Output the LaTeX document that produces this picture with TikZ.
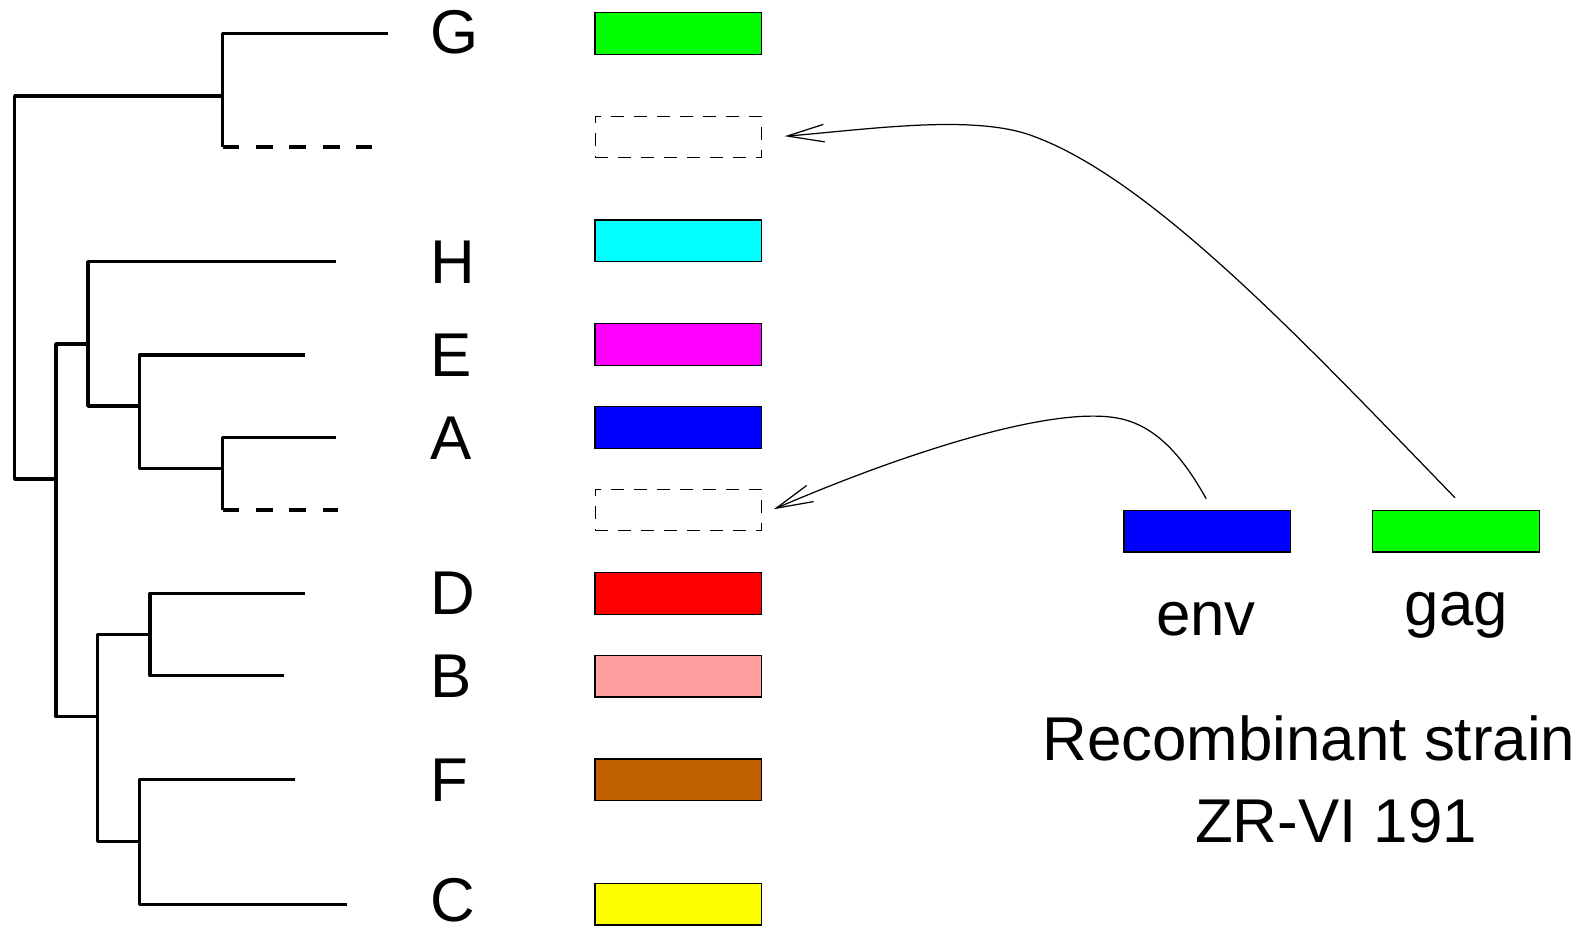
\documentclass[tikz,border=0pt]{standalone}
\usepackage{fontspec}
\setmainfont{Liberation Sans}
\usetikzlibrary{arrows.meta,calc,positioning}
\definecolor{greenG}{RGB}{0,255,0}
\definecolor{cyanH}{RGB}{0,255,255}
\definecolor{magentaE}{RGB}{255,0,255}
\definecolor{blueA}{RGB}{0,0,255}
\definecolor{redD}{RGB}{255,0,0}
\definecolor{pinkB}{RGB}{255,160,160}
\definecolor{brownF}{RGB}{192,96,0}
\definecolor{yellowC}{RGB}{255,255,0}

\begin{document}
\begin{tikzpicture}[x=0.02cm, y=-0.02cm,
		branch/.style={line width=2pt, line join=round},
		bar/.style={draw=black, line width=0.8pt, minimum width=3.33cm, minimum height=0.83cm, inner sep=0pt},
		gapbar/.style={bar, line width=0.6pt, dash pattern=on 7.4pt off 5.7pt},
		txt/.style={inner sep=0pt, font=\fontsize{35.2}{40}\selectfont},
		jump/.style={line width=0.7pt, -{Straight Barb[length=21pt,width=10pt]}}]
	\useasboundingbox (0,0) rectangle (1585,930);
	% inner nodes of the tree
	\coordinate (root) at (14.7,300);
	\coordinate (c1) at (222.7,96);
	\coordinate (c2) at (56,479);
	\coordinate (c3) at (88,344);
	\coordinate (c4) at (139.3,406);
	\coordinate (c5) at (222.7,468.3);
	\coordinate (c6) at (97.7,716.7);
	\coordinate (c7) at (150,634.3);
	\coordinate (c8) at (139.3,841.7);
	% tips
	\coordinate (tG) at (387.7,33.5);
	\coordinate (tX1) at (372,147);
	\coordinate (tH) at (336,261.7);
	\coordinate (tE) at (305,355);
	\coordinate (tA) at (336,437.3);
	\coordinate (tX2) at (338,510);
	\coordinate (tD) at (305,593.3);
	\coordinate (tB) at (284.3,675.7);
	\coordinate (tF) at (294.7,779.3);
	\coordinate (tC) at (346.7,904.3);
	\foreach \a/\b in {root/c1, root/c2, c2/c3, c2/c6, c3/c4, c4/c5, c6/c7, c6/c8,
		c1/tG, c3/tH, c4/tE, c5/tA, c7/tD, c7/tB, c8/tF, c8/tC}
		\draw[branch] (\a) |- (\b);
	% missing lineages
	\draw[branch] (c1) -- (c1 |- tX1);
	\draw[branch, dash pattern=on 9.5pt off 9.5pt] (c1 |- tX1) -- (tX1);
	\draw[branch] (c5) -- (c5 |- tX2);
	\draw[branch, dash pattern=on 9.5pt off 9.5pt] (c5 |- tX2) -- (tX2);
	% subtype names
	\foreach \n/\y in {G/32, H/262.5, E/355, A/438.5, D/593.3, B/676.5, F/780.5, C/900}
		\node[txt, anchor=west] (l\n) at (430,\y) {\n};
	% genome bars
	\node[bar, fill=greenG] (bG) at (678.4,33.5) {};
	\node[gapbar] (gap1) at (678.4,137.2) {};
	\node[bar, fill=cyanH] (bH) at (678.4,240.8) {};
	\node[bar, fill=magentaE] (bE) at (678.4,344.5) {};
	\node[bar, fill=blueA] (bA) at (678.4,427.5) {};
	\node[gapbar] (gap2) at (678.4,510.2) {};
	\node[bar, fill=redD] (bD) at (678.4,593.5) {};
	\node[bar, fill=pinkB] (bB) at (678.4,676.3) {};
	\node[bar, fill=brownF] (bF) at (678.4,779.9) {};
	\node[bar, fill=yellowC] (bC) at (678.4,904.2) {};
	% recombinant
	\node[bar, fill=blueA] (env) at (1207.2,531.2) {};
	\node[bar, fill=greenG] (gag) at (1456,531.2) {};
	\node[txt, anchor=base] (envlbl) at (1206,635) {env};
	\node[txt, anchor=base] (gaglbl) at (1456.5,625) {gag};
	\node[txt, anchor=base] (title) at (1309,760) {Recombinant strain};
	\node[txt, anchor=base] (strain) at (1336,842) {ZR-VI 191};
	\coordinate (envtop) at ($(env.north)+(-1,-11)$);
	\coordinate (gagtop) at ($(gag.north)+(-1,-12)$);
	\coordinate (tip1) at ($(gap1.east)+(22.5,-1)$);
	\coordinate (tip2) at ($(gap2.east)+(11.7,-1)$);
	\draw[jump] (gagtop) .. controls (1305,343) and (1150,177) .. (1030,135)
		.. controls (970,114) and (864,130) .. (tip1);
	\draw[jump] (envtop) .. controls (1184,459) and (1157,425) .. (1117,418)
		.. controls (1047,405.4) and (893,457.7) .. (tip2);
\end{tikzpicture}
\end{document}
